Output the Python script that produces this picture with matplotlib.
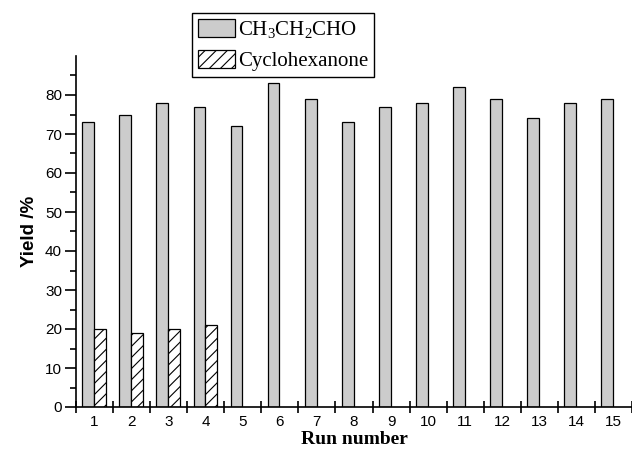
import numpy as np
import matplotlib
matplotlib.use("Agg")
import matplotlib.pyplot as plt
from matplotlib.ticker import FixedLocator

# Data
runs = list(range(1, 16))
propanal = [73, 75, 78, 77, 72, 83, 79, 73, 77, 78, 82, 79, 74, 78, 79]
cyclohexanone_runs = [1, 2, 3, 4]
cyclohexanone = [20, 19, 20, 21]

plt.rcParams["mathtext.fontset"] = "custom"
plt.rcParams["mathtext.rm"] = "Liberation Serif"
plt.rcParams["mathtext.default"] = "rm"
plt.rcParams["hatch.linewidth"] = 0.8

fig = plt.figure(figsize=(6.32, 4.5), dpi=100)
ax = fig.add_axes([76 / 632, 1 - 407 / 450, 1 - 76 / 632, (407 - 56) / 450])

width = 0.32
x = np.array(runs)
xc = np.array(cyclohexanone_runs)
b1 = ax.bar(x - 0.17, propanal, width, color="#cccccc", edgecolor="black",
            linewidth=0.9, label=r"CH$_3$CH$_2$CHO")
b2 = ax.bar(xc + 0.15, cyclohexanone, width, color="white", edgecolor="black",
            linewidth=0.9, hatch="///", label="Cyclohexanone")

ax.set_xlim(0.5, 15.5)
ax.set_ylim(0, 90)

for side in ("top", "right"):
    ax.spines[side].set_visible(False)
ax.spines["left"].set_linewidth(1.2)
ax.spines["bottom"].set_linewidth(1.2)
ax.spines["bottom"].set_clip_on(False)

ax.xaxis.set_major_locator(FixedLocator(runs))
ax.xaxis.set_minor_locator(FixedLocator(np.arange(0.5, 15.6, 1.0)))
ax.tick_params(axis="x", which="major", length=0, pad=6)
ax.tick_params(axis="x", which="minor", direction="inout", length=8, width=1.2)

ax.yaxis.set_major_locator(FixedLocator(range(0, 81, 10)))
ax.yaxis.set_minor_locator(FixedLocator(range(5, 86, 10)))
ax.tick_params(axis="y", which="major", direction="out", length=8, width=1.2, pad=2)
ax.tick_params(axis="y", which="minor", direction="out", length=4, width=1.2)

for lab in ax.get_xticklabels() + ax.get_yticklabels():
    lab.set_fontfamily("Liberation Sans")
    lab.set_fontsize(11)

ax.set_xlabel("Run number", fontfamily="Liberation Serif", fontweight="bold",
              fontsize=14, labelpad=1)
ax.set_ylabel("Yield /%", fontfamily="Liberation Sans", fontweight="bold",
              fontsize=13.5, labelpad=5)

leg = fig.legend(handles=[b1, b2], loc="upper center",
                 bbox_to_anchor=(283 / 632, 1 - 13 / 450),
                 prop={"family": "Liberation Serif", "size": 15},
                 fancybox=False, framealpha=1, edgecolor="black",
                 handlelength=1.75, handleheight=0.95, handletextpad=0.15,
                 borderpad=0.3, labelspacing=0.45, borderaxespad=0)
leg.get_frame().set_linewidth(1.0)

fig.savefig("out.png", dpi=100)
